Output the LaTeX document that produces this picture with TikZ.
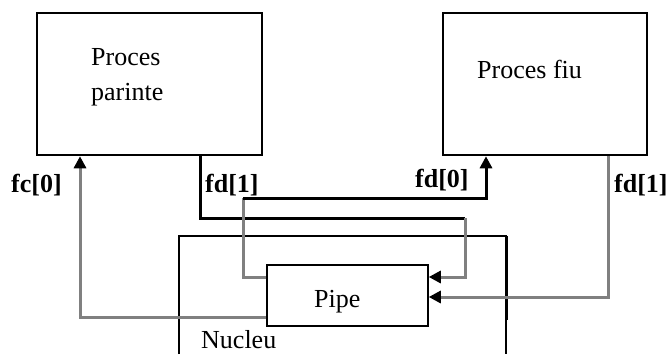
\documentclass[tikz,border=0pt]{standalone}
\usepackage{fontspec}
\setmainfont{Liberation Serif}
\usetikzlibrary{arrows.meta}
\begin{document}
\begin{tikzpicture}[x=1pt,y=-1pt,
  procbox/.style={draw,line width=2.5pt,inner sep=0pt,minimum height=142pt},
  pipebox/.style={draw,line width=1.5pt,inner sep=0pt,minimum width=161pt,minimum height=61pt},
  txt/.style={anchor=base west,inner sep=0pt,font=\fontsize{26}{30}\selectfont},
  lbl/.style={anchor=base west,inner sep=0pt,font=\fontsize{26}{30}\selectfont\bfseries},
  blk/.style={draw=black,line width=3pt},
  gry/.style={draw=black!50,line width=3pt},
  tip/.style={-{Triangle[length=12pt,width=12pt,color=black]}}]
\useasboundingbox (0,0) rectangle (671,354);
% boxes
\node[procbox,minimum width=225pt] (parent) at (149.5,84) {};
\node[procbox,minimum width=204pt] (child) at (545,84) {};
\coordinate (nbl) at (179,354);
\coordinate (ntl) at (179,236);
\coordinate (ntr) at (506,236);
\coordinate (nbr) at (506,354);
\coordinate (nmr) at (506,320);
\draw[line width=1.5pt] (nbl) -- (ntl) -- (ntr) -- (nbr);
\draw[line width=3pt] (ntr) -- (nmr);
\node[pipebox] (pipe) at (347.5,295.5) {};
% texts
\node[txt] (t1) at (91,65) {Proces};
\node[txt] (t2) at (91,100) {parinte};
\node[txt] (t3) at (477,78) {Proces fiu};
\node[txt] (t4) at (314,307) {Pipe};
\node[txt] (t5) at (201,348) {Nucleu};
% labels
\node[lbl] (l1) at (11,192) {fc[0]};
\node[lbl] (l2) at (205,192) {fd[1]};
\node[lbl] (l3) at (415,187) {fd[0]};
\node[lbl] (l4) at (614,192) {fd[1]};
% fc[0]
\draw[gry,tip] (pipe.west |- 0,317) -| (parent.south -| 80,0);
% fd[1] of parent
\coordinate (a1) at (465,218);
\draw[blk] (parent.south -| 200,0) |- (a1);
\draw[gry,tip] (a1) |- (pipe.east |- 0,277);
% fd[0] of child
\coordinate (b1) at (243,198);
\draw[gry] (pipe.west |- 0,277) -| (b1);
\draw[blk,tip] (b1) -| (child.south -| 486,0);
% fd[1] of child
\draw[gry,tip] (child.south -| 608,0) |- (pipe.east |- 0,297);
\end{tikzpicture}
\end{document}
